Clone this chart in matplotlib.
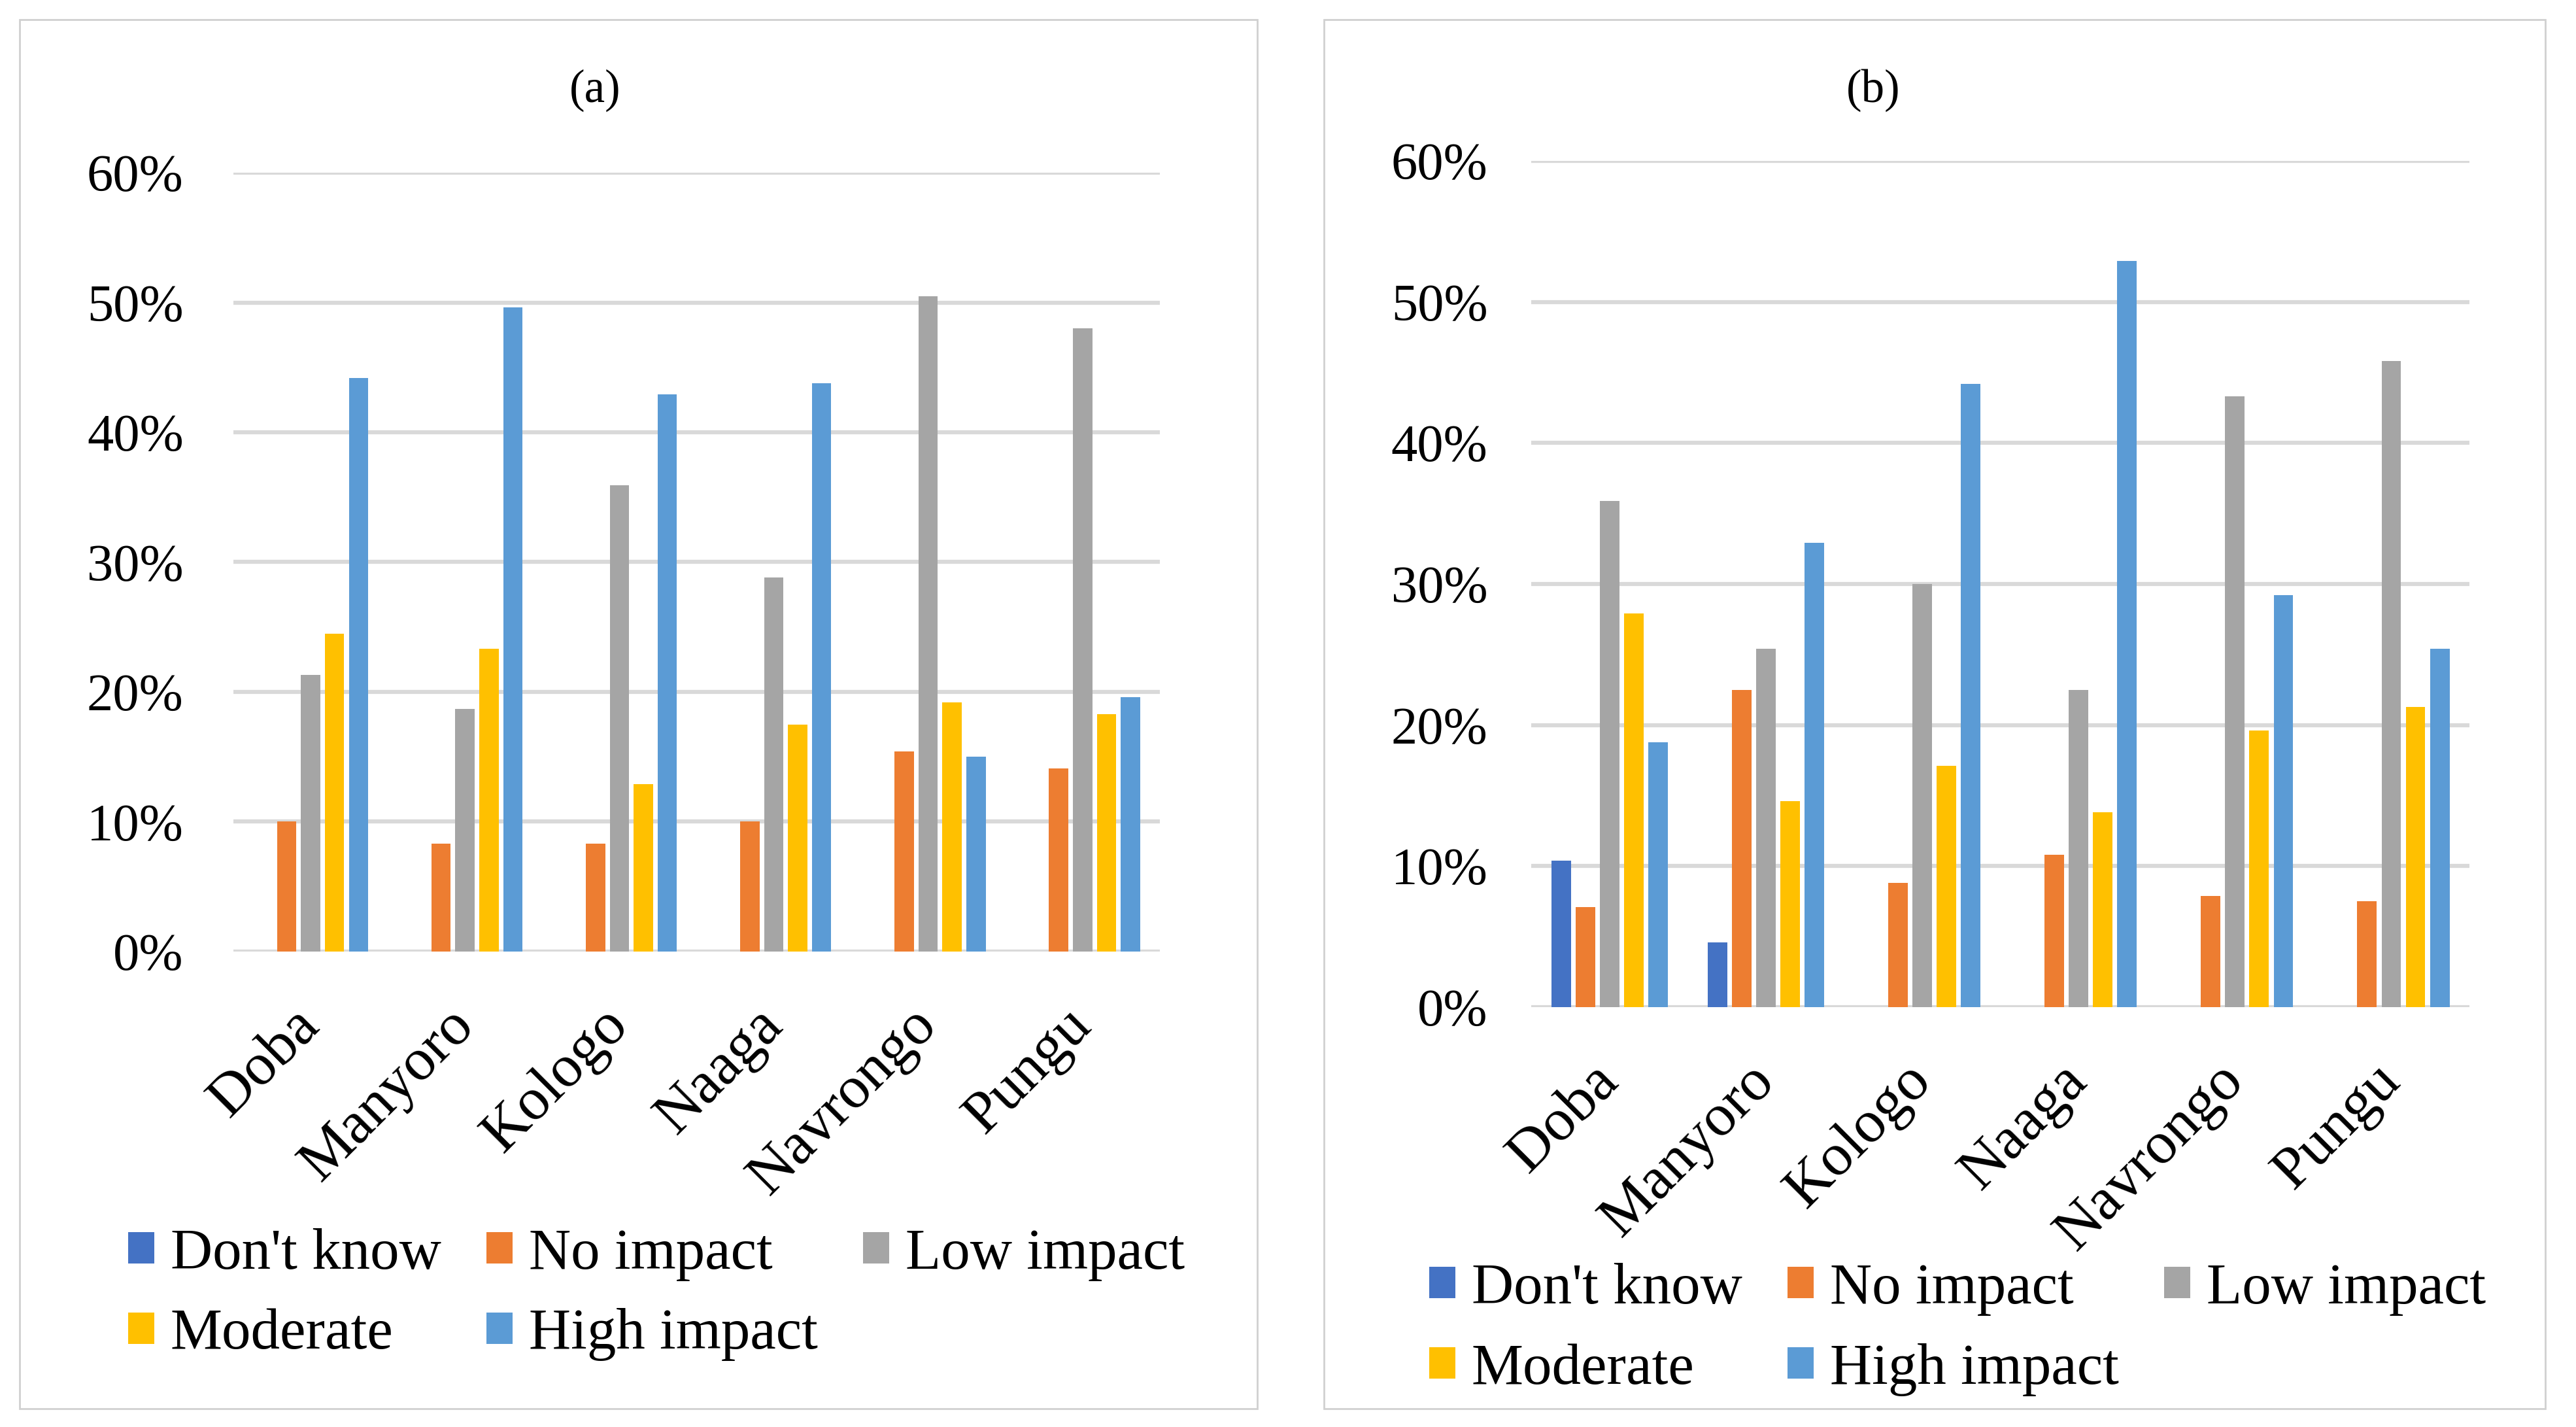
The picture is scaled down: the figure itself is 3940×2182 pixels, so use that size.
"""
Impact of ... by community, panels (a) and (b)
"""
import numpy as np
import matplotlib.pyplot as plt
from matplotlib.patches import Rectangle
from matplotlib.ticker import FuncFormatter

plt.rcParams['font.family'] = ['Liberation Serif', 'DejaVu Serif']

# ----------------------------------------------------------------------------
# Data
# ----------------------------------------------------------------------------
sites = ["Doba", "Manyoro", "Kologo", "Naaga", "Navrongo", "Pungu"]
series_names = ["Don't know", "No impact", "Low impact", "Moderate", "High impact"]
colors = ["#4472C4", "#ED7D31", "#A5A5A5", "#FFC000", "#5B9BD5"]

# panel (a)
a_dont_know = [0.0, 0.0, 0.0, 0.0, 0.0, 0.0]
a_no_impact = [10.0, 8.3, 8.3, 10.0, 15.4, 14.1]
a_low_impact = [21.3, 18.7, 35.9, 28.8, 50.5, 48.0]
a_moderate = [24.5, 23.3, 12.9, 17.5, 19.2, 18.3]
a_high_impact = [44.2, 49.6, 42.9, 43.8, 15.0, 19.6]

# panel (b)
b_dont_know = [10.4, 4.6, 0.0, 0.0, 0.0, 0.0]
b_no_impact = [7.1, 22.5, 8.8, 10.8, 7.9, 7.5]
b_low_impact = [35.9, 25.4, 30.0, 22.5, 43.3, 45.8]
b_moderate = [27.9, 14.6, 17.1, 13.8, 19.6, 21.3]
b_high_impact = [18.8, 32.9, 44.2, 52.9, 29.2, 25.4]

panel_a = [a_dont_know, a_no_impact, a_low_impact, a_moderate, a_high_impact]
panel_b = [b_dont_know, b_no_impact, b_low_impact, b_moderate, b_high_impact]


def draw_panel(ax, series, ypad):
    x = np.arange(len(sites))
    step = 0.155
    width = 0.125
    for i, (vals, name, c) in enumerate(zip(series, series_names, colors)):
        offs = (i - 2) * step
        ax.bar(x + offs, np.array(vals) / 100.0, width=width, color=c, label=name, zorder=3)

    ax.set_xlim(-0.5, len(sites) - 0.5)
    ax.set_ylim(0, 0.6)
    ax.set_yticks(np.arange(0, 0.61, 0.1))
    ax.yaxis.set_major_formatter(FuncFormatter(lambda v, p: "{:.0f}%".format(v * 100)))
    ax.grid(axis='y', color='#D9D9D9', linewidth=4.5, zorder=0)
    for s in ax.spines.values():
        s.set_visible(False)
    ax.tick_params(axis='both', length=0)
    ax.tick_params(axis='y', labelsize=58, pad=ypad)
    ax.set_xticks(x)
    ax.set_xticklabels(sites, rotation=45, ha='right', va='center',
                       rotation_mode='anchor', fontsize=66)
    ax.tick_params(axis='x', pad=72)


fig = plt.figure(figsize=(39.41, 21.82), dpi=100)

ax_a = fig.add_axes([0.0906, 0.3332, 0.3595, 0.5458])
ax_b = fig.add_axes([0.5943, 0.2942, 0.3641, 0.5931])

draw_panel(ax_a, panel_a, 55)
draw_panel(ax_b, panel_b, 48)

# panel titles, centred on each frame
fig.text(0.2309, 0.9368, "(a)", fontsize=51, ha='center', va='center')
fig.text(0.7270, 0.9368, "(b)", fontsize=51, ha='center', va='center')

# panel frames
fig.add_artist(Rectangle((0.0076, 0.0128), 0.4803, 0.9734, transform=fig.transFigure,
                         fill=False, edgecolor='#D0D0D0', linewidth=2))
fig.add_artist(Rectangle((0.5138, 0.0128), 0.4740, 0.9734, transform=fig.transFigure,
                         fill=False, edgecolor='#D0D0D0', linewidth=2))

# legends, filled row by row like the original
order = [0, 3, 1, 4, 2]
for ax, anchor in [(ax_a, (0.0497, 0.0928)), (ax_b, (0.5547, 0.0684))]:
    h, l = ax.get_legend_handles_labels()
    fig.legend([h[i] for i in order], [l[i] for i in order],
               loc='center left', bbox_to_anchor=anchor, ncol=3,
               frameon=False, fontsize=64, handlelength=0.45, handleheight=0.45,
               handletextpad=0.28, columnspacing=0.78, labelspacing=0.47,
               borderpad=0, borderaxespad=0)

fig.savefig("out.png", dpi=100)
